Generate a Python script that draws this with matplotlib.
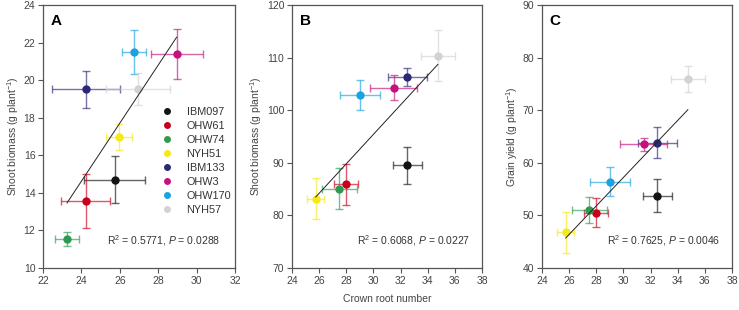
import matplotlib
matplotlib.use('Agg')
import matplotlib.pyplot as plt
from matplotlib.lines import Line2D
import numpy as np

plt.rcParams['font.family'] = ['Liberation Sans', 'DejaVu Sans']
plt.rcParams['mathtext.fontset'] = 'custom'
plt.rcParams['mathtext.rm'] = 'Liberation Sans'
plt.rcParams['mathtext.it'] = 'Liberation Sans:italic'

# genotypes and colours
lines = ['IBM097', 'OHW61', 'OHW74', 'NYH51', 'IBM133', 'OHW3', 'OHW170', 'NYH57']
colors = ['#141414', '#c8001e', '#2f9a50', '#f7e81a', '#2c2878', '#c6127c', '#1ba2df', '#d2d2d2']

# panel A (crown root number vs shoot biomass)
a_x = [25.74, 24.23, 23.25, 25.96, 24.23, 28.96, 26.73, 26.96]
a_xerr = [1.58, 1.28, 0.63, 0.68, 1.76, 1.36, 0.63, 1.67]
a_y = [14.71, 13.55, 11.56, 16.98, 19.52, 21.39, 21.49, 19.52]
a_yerr = [1.25, 1.44, 0.38, 0.68, 0.99, 1.32, 1.17, 0.86]

# panels B and C share crown root number
bc_x = [32.5, 28.0, 27.5, 25.75, 32.5, 31.5, 29.0, 34.75]
bc_xerr = [1.06, 0.9, 1.27, 0.62, 1.45, 1.72, 1.48, 1.24]
b_y = [89.54, 85.92, 85.03, 83.13, 106.35, 104.33, 102.87, 110.35]
b_yerr = [3.5, 3.87, 3.9, 3.9, 1.75, 2.4, 2.9, 4.85]
c_y = [53.77, 50.53, 50.97, 46.79, 63.86, 63.54, 56.44, 75.97]
c_yerr = [3.2, 2.8, 2.5, 3.85, 2.9, 1.27, 2.7, 2.5]

stats = ['R$^{2}$ = 0.5771, $P$ = 0.0288',
         'R$^{2}$ = 0.6068, $P$ = 0.0227',
         'R$^{2}$ = 0.7625, $P$ = 0.0046']

fig = plt.figure(figsize=(7.39, 3.10), dpi=100)
axA = fig.add_axes([0.0582, 0.1355, 0.2598, 0.848])
axB = fig.add_axes([0.3951, 0.1355, 0.2571, 0.848])
axC = fig.add_axes([0.7334, 0.1355, 0.2571, 0.848])

panels = [
    (axA, a_x, a_xerr, a_y, a_yerr, (22, 32), np.arange(22, 33, 2), (10, 24), np.arange(10, 25, 2),
     'Shoot biomass (g plant$^{-1}$)', 'A', stats[0], 0.335),
    (axB, bc_x, bc_xerr, b_y, b_yerr, (24, 38), np.arange(24, 39, 2), (70, 120), np.arange(70, 121, 10),
     'Shoot biomass (g plant$^{-1}$)', 'B', stats[1], 0.34),
    (axC, bc_x, bc_xerr, c_y, c_yerr, (24, 38), np.arange(24, 39, 2), (40, 90), np.arange(40, 91, 10),
     'Grain yield (g plant$^{-1}$)', 'C', stats[2], 0.34),
]

for ax, x, xe, y, ye, xl, xt, yl, yt, ylab, letter, stat, sx in panels:
    for i in range(len(lines)):
        ax.errorbar(x[i], y[i], xerr=xe[i], yerr=ye[i], fmt='none', ecolor=colors[i],
                    alpha=0.65, elinewidth=1.0, capsize=3.2, capthick=1.0, zorder=2)
        ax.plot(x[i], y[i], 'o', color=colors[i], ms=6, mec='none', zorder=3)
    # regression line
    k, b = np.polyfit(x, y, 1)
    xs = np.array([min(x), max(x)])
    ax.plot(xs, k * xs + b, color='#222222', lw=0.7, zorder=4)

    ax.set_xlim(*xl)
    ax.set_ylim(*yl)
    ax.set_xticks(xt)
    ax.set_yticks(yt)
    ax.tick_params(direction='out', length=3.5, width=0.8, color='#555555',
                   labelsize=7.5, labelcolor='#444444', pad=2)
    for s in ax.spines.values():
        s.set_color('#555555')
        s.set_linewidth(0.9)
    ax.set_ylabel(ylab, fontsize=7.5, color='#444444', labelpad=2)
    ax.text(0.04, 0.965, letter, transform=ax.transAxes, fontsize=11, fontweight='bold',
            va='top', ha='left', color='black')
    ax.text(sx, 0.105, stat, transform=ax.transAxes, fontsize=7.5, color='#333333',
            va='center', ha='left')

axB.set_xlabel('Crown root number', fontsize=7.5, color='#444444', labelpad=6)

handles = [Line2D([], [], ls='none', marker='o', ms=5, color=c, mec='none') for c in colors]
axA.legend(handles, lines, loc='upper left', bbox_to_anchor=(0.59, 0.628), frameon=False,
           fontsize=7.8, handlelength=1.2, handletextpad=1.2, labelspacing=0.36,
           borderaxespad=0, labelcolor='#333333')

fig.savefig('out.png', dpi=100)
